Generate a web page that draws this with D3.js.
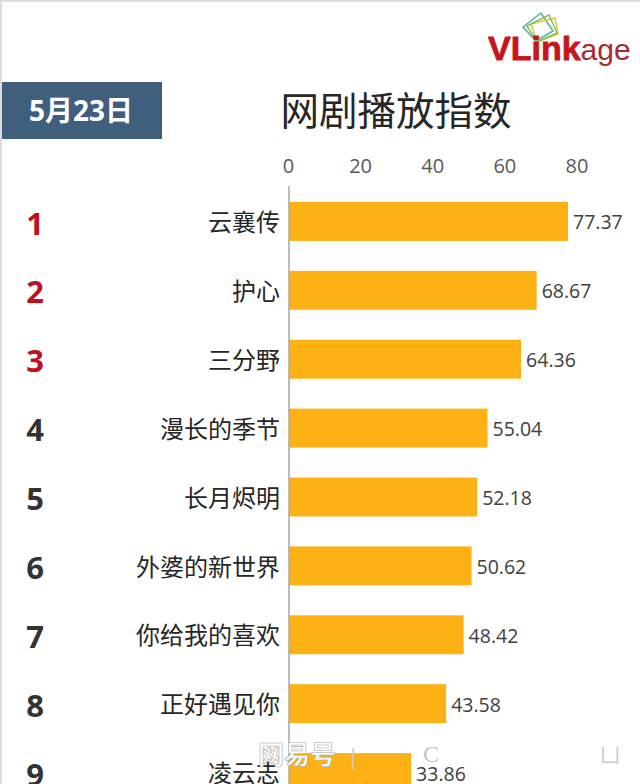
<!DOCTYPE html>
<html>
<head>
<meta charset="utf-8">
<script src="https://cdnjs.cloudflare.com/ajax/libs/d3/7.8.5/d3.min.js"></script>
<style>
  html, body { margin: 0; padding: 0; background: #fff; }
  svg { display: block; }
  text { font-family: "Open Sans", "Noto Sans CJK SC", sans-serif; }
</style>
</head>
<body>
<div id="chart"></div>
<script>
// values
const shows = ["云襄传", "护心", "三分野", "漫长的季节", "长月烬明", "外婆的新世界", "你给我的喜欢", "正好遇见你", "凌云志"];
const ranks = [1, 2, 3, 4, 5, 6, 7, 8, 9];
const scores = [77.37, 68.67, 64.36, 55.04, 52.18, 50.62, 48.42, 43.58, 33.86];
const xTicks = [0, 20, 40, 60, 80];

const rows = shows.map((name, i) => ({name, rank: ranks[i], score: scores[i]}));

const width = 640, height = 784;

const svg = d3.select("#chart")
    .append("svg")
    .attr("width", width)
    .attr("height", height);

// scales -- score on top axis, one band per show
const xScale = d3.scaleLinear().domain([0, 80]).range([289, 577.5]);
const yScale = d3.scaleBand()
    .domain(shows)
    .range([187, 807])
    .paddingInner(0.435)
    .paddingOuter(0.2175);

// gray edge of the screenshot
svg.append("rect").attr("width", width).attr("height", 2).attr("fill", "#dcdcdc");
svg.append("rect").attr("width", 2).attr("height", height).attr("fill", "#dcdcdc");

// date box and title
svg.append("rect")
    .attr("x", 2).attr("y", 82)
    .attr("width", 160).attr("height", 57)
    .attr("fill", "#3f5f7d");

svg.append("text")
    .attr("x", 81).attr("y", 121)
    .attr("text-anchor", "middle")
    .attr("font-size", 28)
    .attr("font-weight", 700)
    .attr("fill", "#fff")
    .text("5月23日");

svg.append("text")
    .attr("x", 396).attr("y", 125)
    .attr("text-anchor", "middle")
    .attr("font-size", 38.5)
    .attr("fill", "#262626")
    .text("网剧播放指数");

// logo
const logo = svg.append("g");
[["#4fb39a", "M523 27L541 13L553 31L536 41Z"],
 ["#e3c542", "M531 24L555 18L558 34L537 42Z"],
 ["#8dbb55", "M527 26L549 15L557 33L537 42Z"]].forEach(([c, d]) => {
    logo.append("path").attr("d", d).attr("fill", "none").attr("stroke", c).attr("stroke-width", 1.5);
});
const logoText = logo.append("text")
    .attr("x", 488).attr("y", 60)
    .style("font-family", "'Liberation Sans'")
    .attr("fill", "#c4161c");
logoText.append("tspan").attr("font-size", 34).attr("font-weight", 700).attr("stroke", "#c4161c").attr("stroke-width", 0.8).text("VLink");
logoText.append("tspan").attr("font-size", 30).attr("fill", "#a82a30").text("age");

// top axis
const xAxis = svg.append("g")
    .attr("transform", "translate(-1,186)")
    .call(d3.axisTop(xScale).tickValues(xTicks).tickSize(0).tickPadding(13));
xAxis.select(".domain").remove();
xAxis.selectAll("text")
    .attr("font-size", 20)
    .attr("fill", "#595959")
    .style("font-family", "'Open Sans'");

// bars
svg.selectAll(".bar")
    .data(rows)
    .join("rect")
    .attr("class", "bar")
    .attr("x", xScale(0))
    .attr("y", d => yScale(d.name))
    .attr("width", d => xScale(d.score) - xScale(0))
    .attr("height", yScale.bandwidth())
    .attr("fill", "#fdb114");

// vertical baseline
svg.append("line")
    .attr("x1", xScale(0)).attr("x2", xScale(0))
    .attr("y1", 186).attr("y2", height)
    .attr("stroke", "#a6a6a6")
    .attr("stroke-width", 1.5);

const midY = d => yScale(d.name) + yScale.bandwidth() / 2;

// show names
svg.selectAll(".name")
    .data(rows)
    .join("text")
    .attr("class", "name")
    .attr("x", 280)
    .attr("y", d => midY(d) + 1)
    .attr("dy", "0.36em")
    .attr("text-anchor", "end")
    .attr("font-size", 24)
    .attr("fill", "#262626")
    .text(d => d.name);

// value labels
svg.selectAll(".value")
    .data(rows)
    .join("text")
    .attr("class", "value")
    .attr("x", d => xScale(d.score) + 5)
    .attr("y", d => midY(d) + 1)
    .attr("dy", "0.36em")
    .attr("font-size", 19.5)
    .attr("fill", "#404040")
    .text(d => d.score.toFixed(2));

// rank numbers -- top three are red
svg.selectAll(".rank")
    .data(rows)
    .join("text")
    .attr("class", "rank")
    .attr("x", 35)
    .attr("y", d => midY(d) + 2)
    .attr("dy", "0.36em")
    .attr("text-anchor", "middle")
    .attr("font-size", 31)
    .attr("font-weight", 700)
    .attr("fill", d => d.rank <= 3 ? "#c00f1f" : "#333")
    .text(d => d.rank);

// watermark
svg.append("text")
    .attr("x", 258).attr("y", 764)
    .attr("font-size", 26)
    .attr("font-weight", 700)
    .attr("fill", "#fff")
    .attr("stroke", "#aaa")
    .attr("stroke-width", 0.6)
    .text("网易号");
svg.append("text").attr("x", 347).attr("y", 764).attr("font-size", 22).attr("fill", "#ccc").text("|");
svg.append("text").attr("x", 423).attr("y", 762).attr("font-size", 24).style("font-family", "'Liberation Serif'").attr("fill", "#c4c4c4").text("C");
svg.append("text").attr("x", 600).attr("y", 763).attr("font-size", 20).attr("fill", "#ccc").text("凵");
</script>
</body>
</html>
